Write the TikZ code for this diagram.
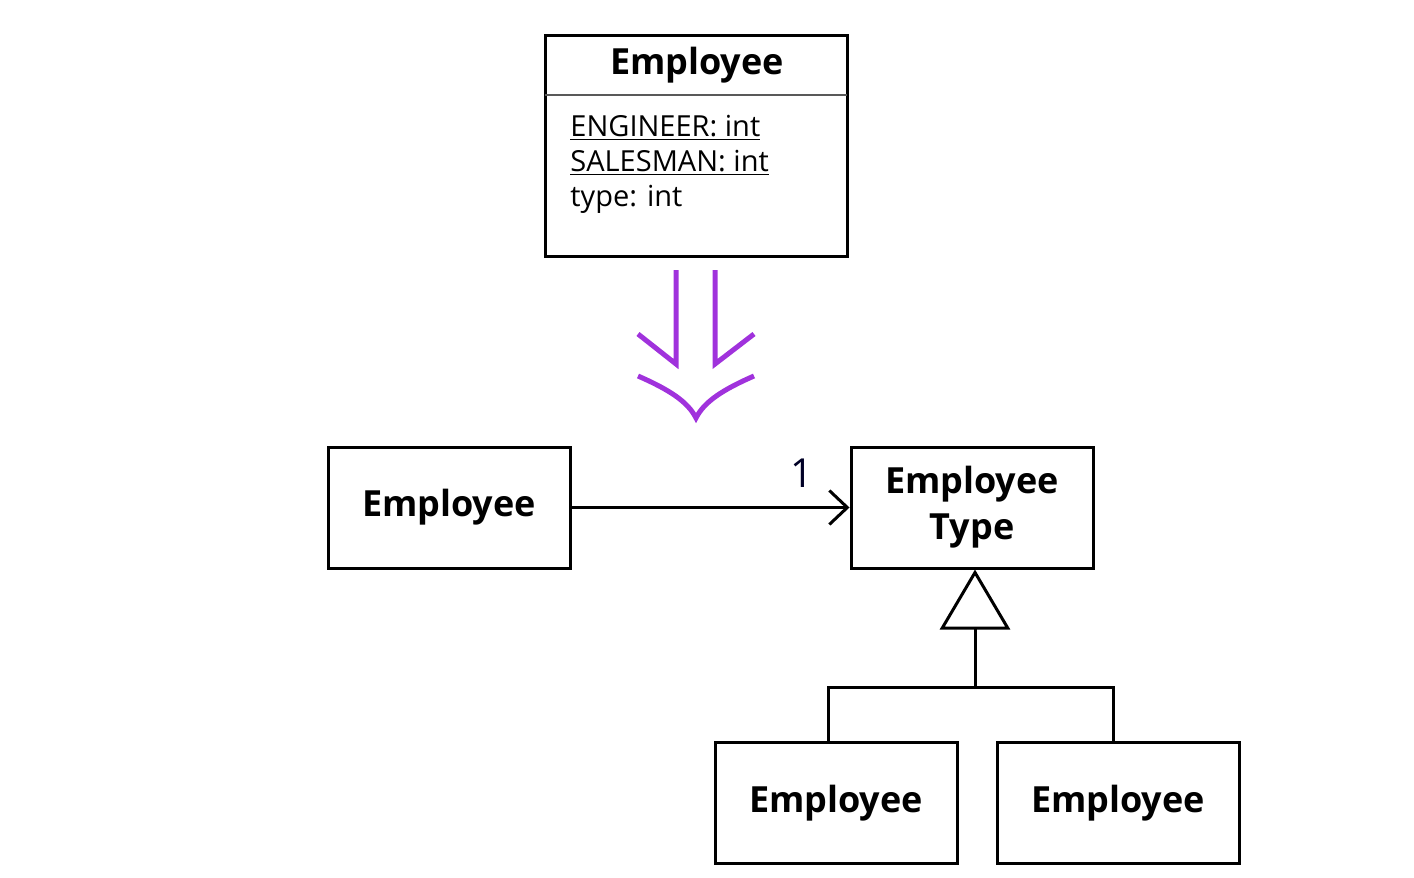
\documentclass[tikz,border=0pt]{standalone}
\usepackage{fontspec}
\setmainfont{Open Sans}
\usepackage{tikz}
\usetikzlibrary{arrows.meta, positioning}

\definecolor{refpurple}{RGB}{160,50,220}

\tikzset{
  classbox/.style={draw, line width=1.5pt, minimum width=121pt, minimum height=60.5pt,
    font=\fontsize{18}{23}\selectfont\bfseries, align=center},
  umlline/.style={line width=1.5pt}
}

\begin{document}
\begin{tikzpicture}[x=0.5pt, y=-0.5pt]
  \useasboundingbox (0,0) rectangle (1414,878);

  % Old class box
  \node[draw, line width=1.5pt, minimum width=151pt, minimum height=110.5pt] (old) at (696,145.5) {};
  \node[font=\fontsize{18}{23}\selectfont\bfseries] (oldname) at (697,65) {Employee};
  \draw[gray!70!black, line width=1pt] (545,95) -- (847,95); % divider
  \node[anchor=north west, align=left, inner sep=0pt, font=\fontsize{14.5}{17.5}\selectfont] (oldattr) at (570,115)
    {\underline{ENGINEER: int}\\ \underline{SALESMAN: int}\\ type: int};

  % Refactoring arrow
  \begin{scope}[refpurple, line width=2.5pt]
    \draw (676,270) -- (676,364) -- (638,334); % left shaft
    \draw (715,270) -- (715,364) -- (754,334); % right shaft
    \draw (638,376) .. controls (670,390) and (688,402) .. (696,418)
                    .. controls (704,402) and (722,390) .. (754,376); % bottom chevron
  \end{scope}

  % New classes
  \node[classbox] (emp) at (449,507.5) {Employee};
  \node[classbox] (etype) at (972,507.5) {Employee\\Type};
  \node[classbox] (eng) at (836,803) {Employee};
  \node[classbox] (sales) at (1118,803) {Employee};

  % Association
  \draw[umlline, -{Straight Barb[length=9pt, width=17pt, line width=1.5pt]}] (emp) -- (etype)
    node[pos=0.83, above=6pt, font=\fontsize{20}{22}\selectfont, text=black!85!blue] (mult) {1};

  % Generalization
  \coordinate (join) at (975,687);
  \draw[umlline] ([xshift=-4pt]eng.north) |- (join) -| ([xshift=-2.5pt]sales.north);
  \draw[umlline, -{Triangle[open, length=30pt, width=35pt, line width=1.5pt]}] (join) -- (etype.south -| join);
\end{tikzpicture}
\end{document}
